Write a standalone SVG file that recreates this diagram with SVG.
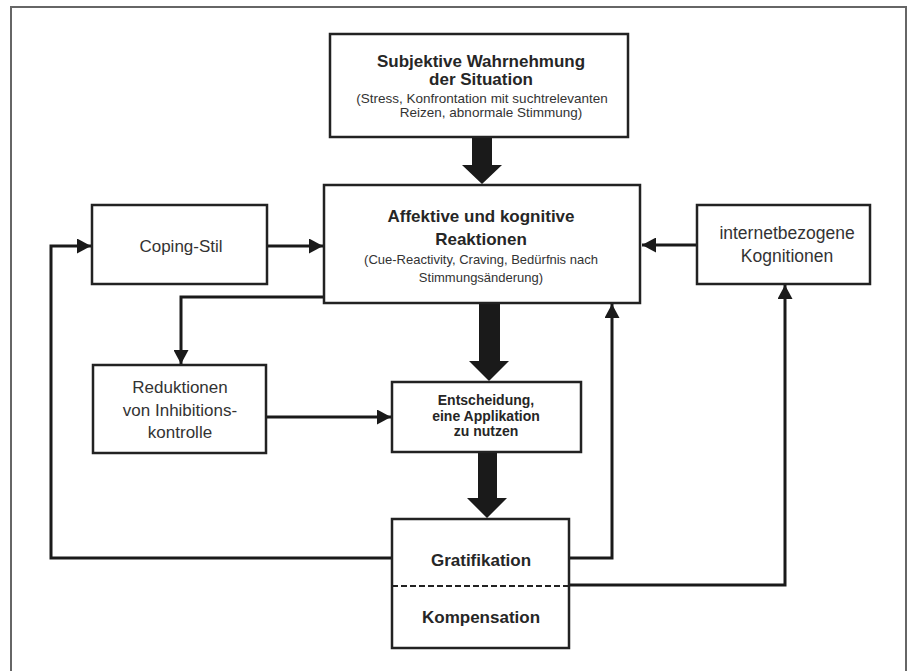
<svg xmlns="http://www.w3.org/2000/svg" width="912" height="671" viewBox="0 0 912 671">
<style>
.box{fill:#fff;stroke:#222;stroke-width:2.5}
.con{fill:none;stroke:#1a1a1a;stroke-width:3}
.thick{fill:#1a1a1a;stroke:none}
text{font-family:"Liberation Sans",Arial,sans-serif;text-anchor:middle;fill:#333}
.b{font-weight:bold;fill:#262626}
</style>
<defs>
<marker id="ah" markerUnits="userSpaceOnUse" markerWidth="15" markerHeight="15" refX="14" refY="7.5" orient="auto">
<path d="M0,0 L14,7.5 L0,15 z" fill="#1a1a1a"/>
</marker>
</defs>
<rect x="11" y="7" width="895" height="700" fill="none" stroke="#666" stroke-width="2"/>
<g id="connectors">
<path class="con" d="M392,558 H51 V246 H91" marker-end="url(#ah)"/>
<path class="con" d="M267,246 H323" marker-end="url(#ah)"/>
<path class="con" d="M697,245 H642" marker-end="url(#ah)"/>
<path class="con" d="M325,297 H181 V364" marker-end="url(#ah)"/>
<path class="con" d="M266,417 H391" marker-end="url(#ah)"/>
<path class="con" d="M569,558 H612 V304" marker-end="url(#ah)"/>
<path class="con" d="M569,585 H785 V285" marker-end="url(#ah)"/>
<polygon class="thick" points="472,138 492,138 492,165 502,165 482,184 462,165 472,165"/>
<polygon class="thick" points="479,304 500,304 500,361 509,361 489,381 469,361 479,361"/>
<polygon class="thick" points="478,452 497,452 497,498 507,498 487,518 467,498 478,498"/>
</g>
<g id="n-situation">
<rect class="box" x="330" y="34" width="298" height="103"/>
<text class="b" x="481" y="67" font-size="17">Subjektive Wahrnehmung</text>
<text class="b" x="481" y="85" font-size="17">der Situation</text>
<text x="482" y="103" font-size="13.5">(Stress, Konfrontation mit suchtrelevanten</text>
<text x="491" y="117" font-size="13.5">Reizen, abnormale Stimmung)</text>
</g>
<g id="n-reaktionen">
<rect class="box" x="324" y="185" width="316" height="118"/>
<text class="b" x="481" y="222" font-size="17">Affektive und kognitive</text>
<text class="b" x="481" y="245" font-size="17">Reaktionen</text>
<text x="481" y="264" font-size="13">(Cue-Reactivity, Craving, Bedürfnis nach</text>
<text x="481" y="282" font-size="13">Stimmungsänderung)</text>
</g>
<g id="n-coping">
<rect class="box" x="92" y="205" width="175" height="79"/>
<text x="181" y="252" font-size="17">Coping-Stil</text>
</g>
<g id="n-internet">
<rect class="box" x="697" y="205" width="173" height="79"/>
<text x="787" y="239" font-size="17.5">internetbezogene</text>
<text x="787" y="262" font-size="17.5">Kognitionen</text>
</g>
<g id="n-reduktionen">
<rect class="box" x="93" y="365" width="173" height="88"/>
<text x="180" y="393" font-size="17">Reduktionen</text>
<text x="180" y="416" font-size="17">von Inhibitions-</text>
<text x="180" y="438" font-size="17">kontrolle</text>
</g>
<g id="n-entscheidung">
<rect class="box" x="392" y="382" width="189" height="70"/>
<text class="b" x="486" y="405" font-size="14">Entscheidung,</text>
<text class="b" x="486" y="421" font-size="14">eine Applikation</text>
<text class="b" x="486" y="436" font-size="14">zu nutzen</text>
</g>
<g id="n-gratifikation">
<rect class="box" x="392" y="519" width="177" height="129"/>
<line x1="392" y1="586" x2="569" y2="586" stroke="#222" stroke-width="2" stroke-dasharray="6,3"/>
<text class="b" x="481" y="566" font-size="17">Gratifikation</text>
<text class="b" x="481" y="623" font-size="17">Kompensation</text>
</g>
</svg>
